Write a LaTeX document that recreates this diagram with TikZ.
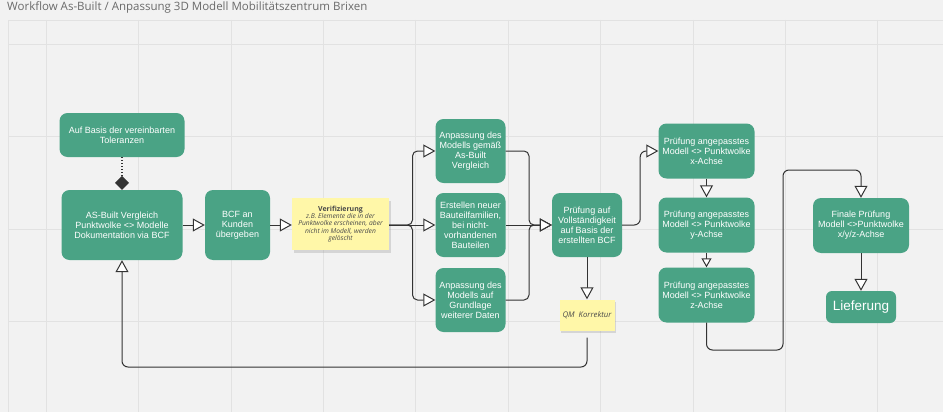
\documentclass[tikz,border=0pt]{standalone}
\usepackage{fontspec}
\setmainfont{Liberation Sans}
\newfontfamily\notefont{Open Sans}
\usetikzlibrary{arrows.meta,shadows}

\definecolor{boxgreen}{HTML}{4AA385}
\definecolor{noteyellow}{HTML}{FFF7A8}
\definecolor{bggray}{HTML}{F2F2F2}
\definecolor{gridgray}{HTML}{E2E2E2}
\definecolor{linegray}{HTML}{333333}
\definecolor{titlegray}{HTML}{6A6A6A}
\definecolor{notetext}{HTML}{4A4A4A}

\newcommand{\noteit}{\notefont\itshape\fontsize{6.7}{7.4}\selectfont}

\tikzset{
  stepbox/.style={fill=boxgreen, rounded corners=8pt, text=white, align=center,
    inner sep=1pt, font=\fontsize{9}{10}\selectfont},
  notebox/.style={fill=noteyellow, align=center, inner sep=1pt, text=notetext,
    drop shadow={shadow xshift=1.5pt, shadow yshift=-2.5pt, opacity=.25}},
  conn/.style={draw=linegray, line width=1pt},
  flow/.style={conn, -{Triangle[length=12pt,width=13pt,fill=white,line width=1pt]}},
  smallflow/.style={conn, -{Triangle[length=9pt,width=10pt,fill=white,line width=1pt]}}
}

\begin{document}
\begin{tikzpicture}[x=1pt, y=-1pt]
\useasboundingbox (0,0) rectangle (943,412);
\fill[bggray] (0,0) rectangle (943,412);

% board grid
\foreach \gx in {46,138.4,...,900} \draw[gridgray, line width=.6pt] (\gx,20) -- (\gx,412);
\foreach \gy in {44,136.5,...,412} \draw[gridgray, line width=.6pt] (8,\gy) -- (943,\gy);
\draw[gridgray, line width=.8pt] (943,20) -- (8,20) -- (8,412);

\node[anchor=north west, inner sep=0pt, text=titlegray, font=\notefont\fontsize{11.5}{13}\selectfont] (title) at (7,2) {Workflow As-Built / Anpassung 3D Modell Mobilitätszentrum Brixen};

% left part
\node[stepbox, minimum width=125pt, minimum height=44pt] (tol) at (122,135) {Auf Basis der vereinbarten\\Toleranzen};
\node[stepbox, minimum width=121pt, minimum height=70pt] (asbuilt) at (122,225) {AS-Built Vergleich\\Punktwolke <> Modelle\\Dokumentation via BCF};
\node[stepbox, minimum width=65pt, minimum height=70pt] (bcf) at (237.5,225) {BCF an\\Kunden\\übergeben};
\node[notebox, minimum width=97pt, minimum height=52pt, font=\noteit] (verif) at (340.5,224)
  {\upshape\bfseries\fontsize{7}{8.4}\selectfont Verifizierung\\
   z.B. Elemente die in der\\Punktwolke erscheinen, aber\\nicht im Modell, werden\\gelöscht};

% adjustments
\node[stepbox, minimum width=70pt, minimum height=64pt] (anp1) at (470.5,151) {Anpassung des\\Modells gemäß\\As-Built\\Vergleich};
\node[stepbox, minimum width=70pt, minimum height=64pt] (neu) at (470.5,225) {Erstellen neuer\\Bauteilfamilien,\\bei nicht-\\vorhandenen\\Bauteilen};
\node[stepbox, minimum width=70pt, minimum height=64pt] (anp3) at (470.5,300) {Anpassung des\\Modells auf\\Grundlage\\weiterer Daten};
\node[stepbox, minimum width=70pt, minimum height=64pt] (vollst) at (587,225) {Prüfung auf\\Vollständigkeit\\auf Basis der\\erstellten BCF};
\node[notebox, minimum width=55pt, minimum height=31pt, font=\notefont\itshape\fontsize{7.8}{9}\selectfont] (qm) at (587,315) {QM\ \ Korrektur};

% checks
\node[stepbox, minimum width=96pt, minimum height=55pt] (px) at (706.5,151) {Prüfung angepasstes\\Modell <> Punktwolke\\x-Achse};
\node[stepbox, minimum width=96pt, minimum height=55pt] (py) at (706.5,225) {Prüfung angepasstes\\Modell <> Punktwolke\\y-Achse};
\node[stepbox, minimum width=96pt, minimum height=55pt] (pz) at (706.5,295) {Prüfung angepasstes\\Modell <> Punktwolke\\z-Achse};
\node[stepbox, minimum width=96pt, minimum height=55pt] (finale) at (861,225.5) {Finale Prüfung\\Modell <>Punktwolke\\x/y/z-Achse};
\node[stepbox, rounded corners=6pt, minimum width=70pt, minimum height=32pt, font=\fontsize{13.5}{15}\selectfont] (liefer) at (861,307) {Lieferung};

\coordinate (forkL) at (412.5,225);
\coordinate (forkR) at (529,225);
\coordinate (backC) at (587,367);
\coordinate (loopA) at (783,350);
\coordinate (loopB) at (783,170);

% connectors
\draw[conn, dotted, line width=1.5pt, -{Diamond[length=14pt,width=14pt,line width=0pt]}] (tol) -- (asbuilt);
\draw[flow] (asbuilt) -- (bcf);
\draw[flow] (bcf) -- (bcf -| verif.west);
\draw[flow, rounded corners=5pt] (verif.east |- forkL) -- (forkL) |- (anp1);
\draw[flow] (verif.east |- forkL) -- (neu);
\draw[flow, rounded corners=5pt] (verif.east |- forkL) -- (forkL) |- (anp3);
\draw[flow, rounded corners=5pt] (anp1) -| (forkR) -- (vollst);
\draw[flow, rounded corners=5pt] (anp3) -| (forkR) -- (vollst);
\draw[flow] (neu) -- (vollst);
\draw[flow, rounded corners=6pt] (vollst.east) -- ++(18,0) |- (px);
\draw[flow] (vollst) -- (qm);
\draw[flow, rounded corners=6pt] (qm.south) ++(0,7) -- (backC) -| (asbuilt);
\draw[flow] (px) -- (py);
\draw[smallflow] (py) -- (pz);
\draw[flow, rounded corners=6pt] (pz) |- (loopA) -- (loopB) -| (finale);
\draw[flow] (finale) -- (liefer);
\end{tikzpicture}
\end{document}
